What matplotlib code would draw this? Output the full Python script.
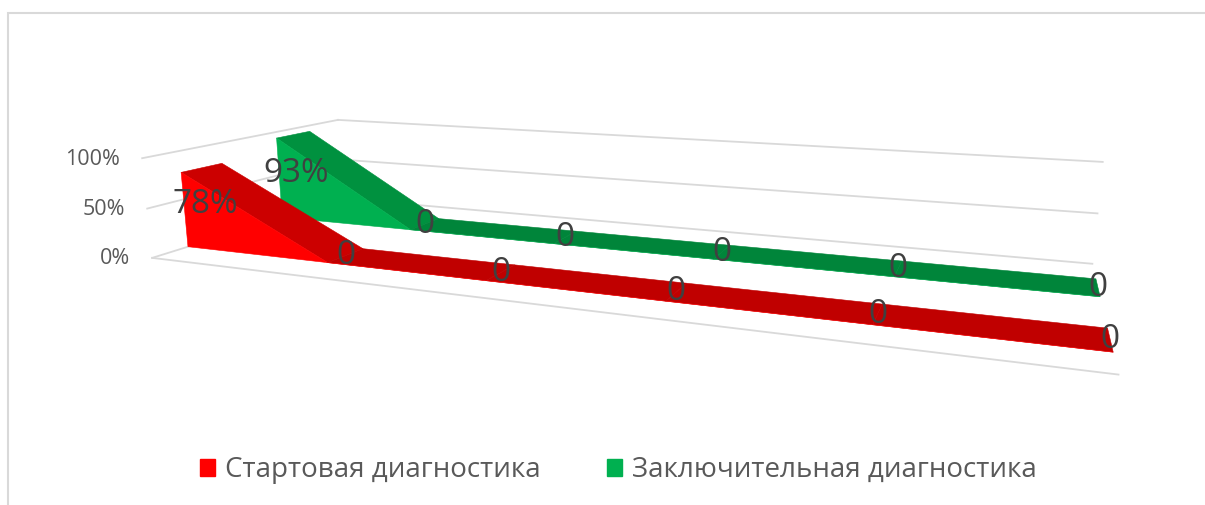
import numpy as np
import matplotlib
matplotlib.use("Agg")
import matplotlib.pyplot as plt
from matplotlib.patches import Patch, Rectangle
from matplotlib.transforms import offset_copy
from mpl_toolkits.mplot3d import proj3d
from mpl_toolkits.mplot3d.art3d import Poly3DCollection

# data
points = np.arange(6)
series_names = ["Стартовая диагностика", "Заключительная диагностика"]
start_values = [0.78, 0, 0, 0, 0, 0]
final_values = [0.93, 0, 0, 0, 0, 0]
value_ticks = [0, 0.5, 1]
tick_labels = ["0%", "50%", "100%"]

# 3D view found by fitting the reference's box corners
fig = plt.figure(figsize=(12.05, 5.05), dpi=100)
ax = fig.add_axes([0.11653, -0.36145, 0.77019, 1.83778], projection="3d")
ax.set_xlim(0, 5)
ax.set_ylim(0, 2)
ax.set_zlim(0, 1)
ax.view_init(elev=12.353, azim=-68.774, roll=0.016)
ax.set_proj_type("persp", focal_length=0.2054)
ax.set_box_aspect((8.671, 3.1206, 1.0))
ax.set_axis_off()
ax.computed_zorder = False
M = ax.get_proj()

grid_color = "#D9D9D9"
for z in value_ticks:
    ax.plot([0, 0], [0, 2], [z, z], color=grid_color, lw=1.3, zorder=1, clip_on=False)
    ax.plot([0, 5], [2, 2], [z, z], color=grid_color, lw=1.3, zorder=1, clip_on=False)
ax.plot([0, 5], [0, 0], [0, 0], color=grid_color, lw=1.3, zorder=1, clip_on=False)

# value axis labels, placed next to the front-left edge
tick_tr = offset_copy(ax.transData, fig=fig, x=-22, y=-1, units="dots")
for z, lab in zip(value_ticks, tick_labels):
    tx, ty, _ = proj3d.proj_transform(0, 0, z, M)
    ax.text2D(tx, ty, lab, transform=tick_tr, ha="right", va="center", fontsize=15.5,
              color="#595959", family=["Open Sans", "DejaVu Sans"], clip_on=False, zorder=6)


def draw_area(vals, front_y, back_y, front, slant, flat, zo):
    polys, cols = [], []
    for i in range(len(vals) - 1):
        x0, x1, v0, v1 = points[i], points[i + 1], vals[i], vals[i + 1]
        polys.append([(x0, front_y, 0), (x0, front_y, v0), (x1, front_y, v1), (x1, front_y, 0)])
        cols.append(front)
        polys.append([(x0, front_y, v0), (x1, front_y, v1), (x1, back_y, v1), (x0, back_y, v0)])
        cols.append(slant if v0 != v1 else flat)
    pc = Poly3DCollection(polys, facecolors=cols, edgecolors=cols, linewidths=0.4, zorder=zo)
    pc.set_clip_on(False)
    ax.add_collection3d(pc)
    # data labels in the middle of each point's band
    mid = (front_y + back_y) / 2
    for x, v in zip(points, vals):
        lx, ly, _ = proj3d.proj_transform(x, mid, v / 2, M)
        if v:
            fam = ["Open Sans", "DejaVu Sans"]
            txt = f"{v:.0%}"
        else:
            fam = ["Liberation Sans Narrow", "Open Sans", "DejaVu Sans"]
            txt = "0"
        ax.text2D(lx, ly, txt, transform=ax.transData, ha="center", va="center",
                  fontsize=24, color="#404040", family=fam, clip_on=False, zorder=zo + 5)


draw_area(final_values, 1.256, 1.639, "#00B050", "#00913F", "#00853A", 2)
draw_area(start_values, 0.307, 0.681, "#FF0000", "#CC0000", "#C00000", 3)

handles = [Patch(color="#FF0000"), Patch(color="#00B050")]
fig.legend(handles, series_names, loc="center", bbox_to_anchor=(0.513, 0.069), ncol=2,
           frameon=False, handlelength=0.54, handleheight=0.6,
           handletextpad=0.36, columnspacing=2.4,
           prop={"family": ["Open Sans", "DejaVu Sans"], "size": 20}, labelcolor="#595959")

# chart frame
fig.add_artist(Rectangle((8 / 1205, -0.1), 1.2, 1.1 - 13 / 505, transform=fig.transFigure,
                         fill=False, edgecolor="#D9D9D9", lw=1.5))

fig.savefig("out.png", dpi=100)
